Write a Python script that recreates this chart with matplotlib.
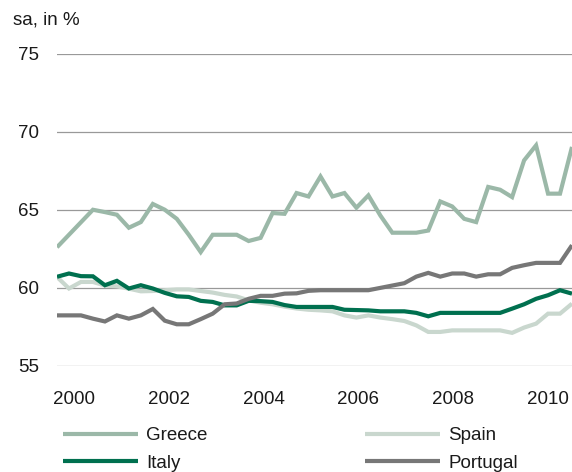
import numpy as np
import matplotlib
matplotlib.use('Agg')
import matplotlib.pyplot as plt

plt.rcParams['font.family'] = ['Liberation Sans', 'DejaVu Sans']

GREECE_C   = '#9BB8A8'
SPAIN_C    = '#C9D7CE'
ITALY_C    = '#00704F'
PORTUGAL_C = '#777777'
GRID_C     = '#999999'
TEXT_C     = '#1A1A1A'

# quarterly data, 2000Q1 .. 2010Q4 (sa, in %)
greece = [62.6, 63.4, 64.2, 65.0, 64.85, 64.68, 63.85, 64.21, 65.37, 65.0, 64.42, 63.4,
          62.29, 63.4, 63.4, 63.4, 63.0, 63.2, 64.79, 64.74, 66.07, 65.85, 67.13, 65.85,
          66.07, 65.13, 65.92, 64.63, 63.53, 63.53, 63.53, 63.67, 65.53, 65.21, 64.42, 64.21,
          66.46, 66.28, 65.81, 68.16, 69.12, 66.03, 66.03, 69.02]
spain = [60.7, 59.96, 60.38, 60.38, 60.15, 60.1, 59.95, 59.78, 59.8, 59.85, 59.9, 59.9,
         59.8, 59.7, 59.55, 59.45, 59.2, 59.05, 58.95, 58.8, 58.68, 58.6, 58.56, 58.5,
         58.24, 58.1, 58.24, 58.1, 58.0, 57.88, 57.6, 57.18, 57.18, 57.28, 57.28, 57.28,
         57.28, 57.28, 57.12, 57.46, 57.71, 58.35, 58.35, 58.99]
italy = [60.71, 60.92, 60.75, 60.74, 60.17, 60.45, 59.96, 60.17, 59.96, 59.68, 59.46, 59.42,
         59.17, 59.1, 58.88, 58.88, 59.17, 59.15, 59.1, 58.9, 58.78, 58.78, 58.78, 58.78,
         58.6, 58.58, 58.56, 58.5, 58.5, 58.5, 58.4, 58.18, 58.4, 58.4, 58.4, 58.4,
         58.4, 58.4, 58.67, 58.95, 59.3, 59.53, 59.85, 59.63]
portugal = [58.24, 58.24, 58.24, 58.03, 57.85, 58.24, 58.03, 58.24, 58.65, 57.9, 57.67, 57.67,
            58.0, 58.35, 58.95, 59.0, 59.3, 59.49, 59.49, 59.63, 59.65, 59.81, 59.85, 59.85,
            59.85, 59.85, 59.85, 60.0, 60.15, 60.3, 60.72, 60.96, 60.72, 60.92, 60.92, 60.72,
            60.87, 60.87, 61.28, 61.45, 61.6, 61.6, 61.6, 62.73]

years = [2000, 2002, 2004, 2006, 2008, 2010]
yticks = [55, 60, 65, 70, 75]

q = np.arange(len(greece))

fig = plt.figure(figsize=(5.72, 4.72), dpi=100)
ax = fig.add_axes([57 / 572, 1 - 366 / 472, 1 - 57 / 572, (366 - 53.5) / 472])

series = [('Greece', greece, GREECE_C), ('Spain', spain, SPAIN_C),
          ('Italy', italy, ITALY_C), ('Portugal', portugal, PORTUGAL_C)]
lines = {}
for name, vals, col in series:
    ln, = ax.plot(q, vals, color=col, lw=3.0, solid_joinstyle='miter',
                  solid_capstyle='butt', label=name, zorder=3)
    lines[name] = ln

ax.set_xlim(0, len(greece) - 1)
ax.set_ylim(55, 75)
ax.set_yticks(yticks)
ax.set_yticklabels([str(v) for v in yticks])
# year labels sit a little into each year (as in the original layout)
ax.set_xticks([(y - 2000) * 3.96 + 1.4 for y in years])
ax.set_xticklabels([str(y) for y in years])
ax.tick_params(axis='both', length=0, labelsize=13.5, colors=TEXT_C)
ax.tick_params(axis='y', pad=13)
ax.tick_params(axis='x', pad=18)
for sp in ax.spines.values():
    sp.set_visible(False)
ax.yaxis.grid(True, color=GRID_C, lw=0.9)
ax.set_axisbelow(True)

fig.text(13 / 572, 1 - 20 / 472, 'sa, in %', fontsize=13.5, color=TEXT_C, va='center')

leg_kw = dict(frameon=False, fontsize=13.5, handlelength=4.0, handletextpad=0.45,
              labelspacing=0.55, borderaxespad=0, borderpad=0, labelcolor=TEXT_C)
leg1 = fig.legend([lines['Greece'], lines['Italy']], ['Greece', 'Italy'],
                  loc='upper left', bbox_to_anchor=(63 / 572, 1 - 427 / 472), **leg_kw)
leg2 = fig.legend([lines['Spain'], lines['Portugal']], ['Spain', 'Portugal'],
                  loc='upper left', bbox_to_anchor=(365 / 572, 1 - 427 / 472), **leg_kw)
for leg in (leg1, leg2):
    for h in leg.legend_handles:
        h.set_linewidth(3.0)

fig.savefig('out.png', dpi=100)
